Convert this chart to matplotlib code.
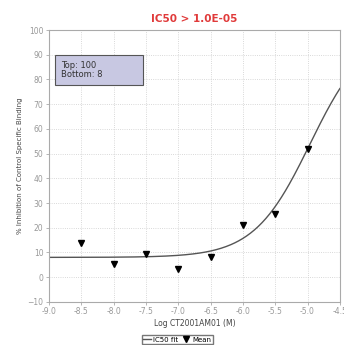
import numpy as np
from matplotlib import pyplot as plt
from matplotlib.lines import Line2D
from matplotlib.patches import Rectangle

# measured points
log_conc = [-8.5, -8.0, -7.5, -7.0, -6.5, -6.0, -5.5, -5.0]
inhibition = [14, 5.5, 9.5, 3.5, 8, 21, 25.5, 52]

# fit parameters
top = 100
bottom = 8
log_ic50 = -4.96
hill = 1.0

x_ticks = [-9.0, -8.5, -8.0, -7.5, -7.0, -6.5, -6.0, -5.5, -5.0, -4.5]
y_ticks = [-10, 0, 10, 20, 30, 40, 50, 60, 70, 80, 90, 100]

fig = plt.figure(figsize=(3.44, 3.45), dpi=100)
ax = fig.add_axes([0.1425, 0.125, 0.8455, 0.788])

xfit = np.linspace(-9.0, -4.5, 300)
yfit = bottom + (top - bottom) / (1 + 10 ** ((log_ic50 - xfit) * hill))
ax.plot(xfit, yfit, color="#555555", lw=1.0)
ax.plot(log_conc, inhibition, "v", color="black", ms=4.2, ls="none")

ax.set_xlim(-9.0, -4.5)
ax.set_ylim(-10, 100)
ax.set_xticks(x_ticks)
ax.set_xticklabels(["%.1f" % v for v in x_ticks])
ax.set_yticks(y_ticks)
ax.tick_params(labelsize=5.5, colors="#999999", length=2, width=0.5, pad=2)
ax.grid(True, color="#cccccc", ls=":", lw=0.6)
for s in ax.spines.values():
    s.set_color("#aaaaaa")
    s.set_linewidth(0.8)

ax.set_title("IC50 > 1.0E-05", color="#e03a3a", fontsize=7.5, fontweight="bold", pad=6)
ax.set_xlabel("Log CT2001AM01 (M)", fontsize=5.5, color="#444444", labelpad=2)
ax.set_ylabel("% Inhibition of Control Specific Binding", fontsize=5, color="#444444", labelpad=3)

# parameter box
ax.add_patch(Rectangle((0.021, 0.798), 0.302, 0.11, transform=ax.transAxes,
                       fc="#c8c8e2", ec="#555555", lw=0.8, zorder=5))
ax.text(0.04, 0.853, "Top: 100\nBottom: 8", transform=ax.transAxes, fontsize=6,
        color="#333333", va="center", linespacing=1.1, zorder=6)

handles = [Line2D([], [], color="#555555", lw=1.0),
           Line2D([], [], marker="v", color="black", ls="none", ms=4)]
fig.legend(handles, ["IC50 fit", "Mean"], loc="center", bbox_to_anchor=(0.515, 0.015),
           ncol=2, fontsize=5, frameon=True, fancybox=False, edgecolor="#555555",
           handlelength=1.2, handletextpad=0.3, columnspacing=0.5, borderpad=0.2)

fig.savefig("out.png", dpi=100)
